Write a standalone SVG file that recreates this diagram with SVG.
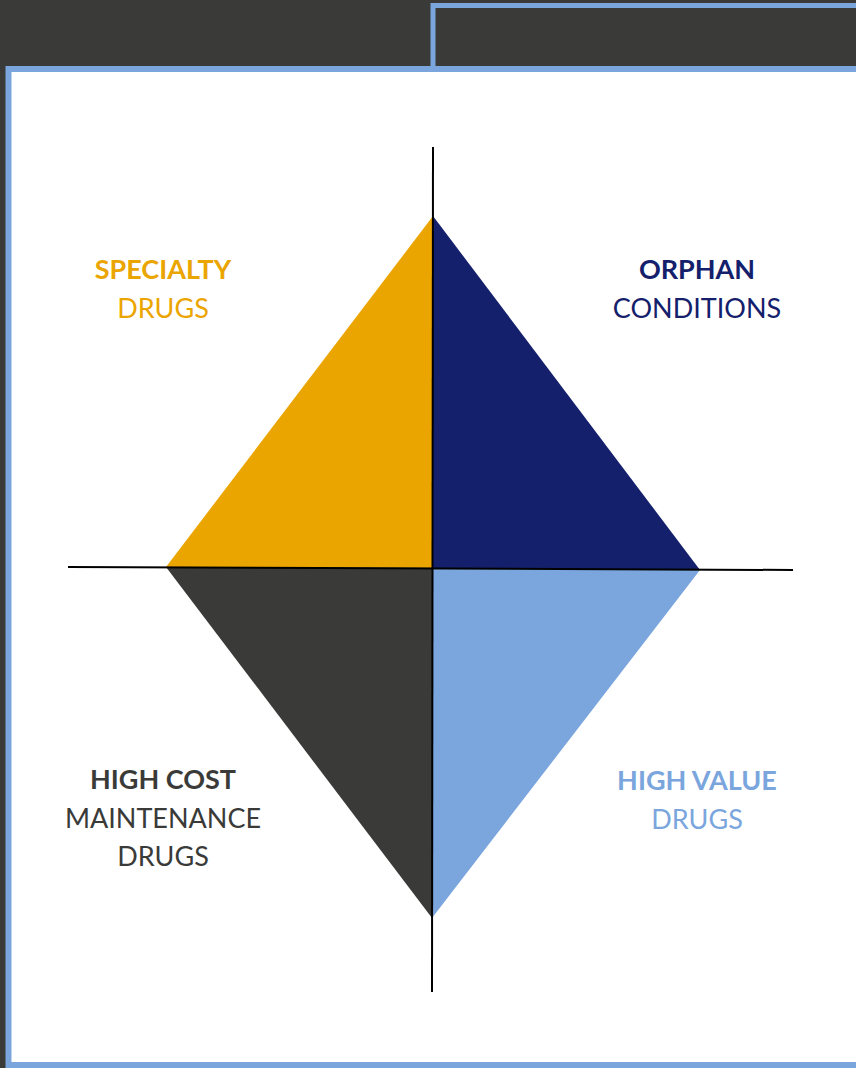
<svg xmlns="http://www.w3.org/2000/svg" width="856" height="1068" viewBox="0 0 856 1068">
  <style>
    .frame { fill: none; stroke: #7AA5DD; }
    .axis { stroke: #000000; stroke-width: 2; fill: none; }
    .label { font-family: Lato, "Open Sans", "Liberation Sans", sans-serif; font-size: 27px; text-anchor: middle; }
    .bold { font-weight: 700; }
    .orange { fill: #EBA500; }
    .navy { fill: #14206B; }
    .dark { fill: #3A3B39; }
    .light { fill: #7AA5DD; }
  </style>

  <!-- page background -->
  <rect x="0" y="0" width="856" height="1068" fill="#3A3B39"/>

  <!-- header box at top right -->
  <rect class="frame" x="433" y="5.5" width="440" height="100" stroke-width="5"/>

  <!-- main white panel -->
  <rect x="8.5" y="69" width="870" height="996" fill="#FFFFFF" stroke="#7AA5DD" stroke-width="6"/>

  <!-- four quadrant triangles -->
  <g id="specialty-drugs">
    <polygon class="orange" points="433,216 433,568 166,567"/>
    <text class="label bold orange" x="163" y="279">SPECIALTY</text>
    <text class="label orange" x="163" y="318">DRUGS</text>
  </g>
  <g id="orphan-conditions">
    <polygon class="navy" points="433,216 700,570 433,568"/>
    <text class="label bold navy" x="697" y="279">ORPHAN</text>
    <text class="label navy" x="697" y="318">CONDITIONS</text>
  </g>
  <g id="high-cost-maintenance">
    <polygon class="dark" points="166,567 433,568 432,918"/>
    <text class="label bold dark" x="163" y="789">HIGH COST</text>
    <text class="label dark" x="163" y="828">MAINTENANCE</text>
    <text class="label dark" x="163" y="866">DRUGS</text>
  </g>
  <g id="high-value-drugs">
    <polygon class="light" points="433,568 700,570 432,918"/>
    <text class="label bold light" x="697" y="790">HIGH VALUE</text>
    <text class="label light" x="697" y="829">DRUGS</text>
  </g>

  <!-- axes -->
  <g id="axes">
    <line class="axis" x1="433" y1="147" x2="432" y2="992"/>
    <line class="axis" x1="68" y1="567" x2="793" y2="570"/>
  </g>
</svg>
